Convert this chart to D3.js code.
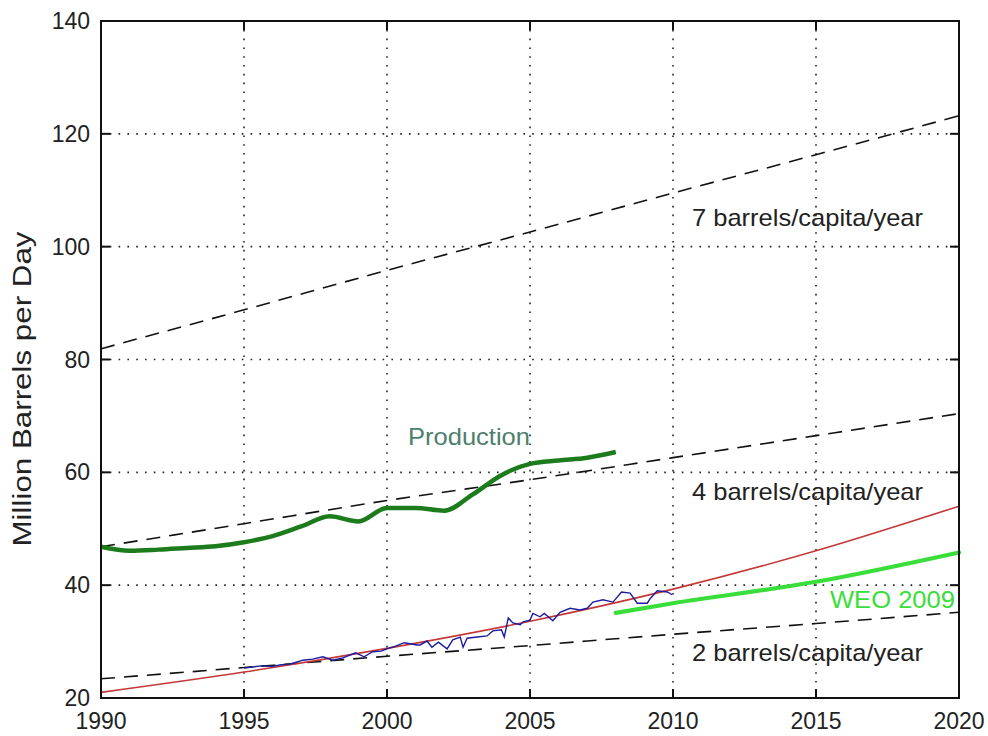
<!DOCTYPE html>
<html>
<head>
<meta charset="utf-8">
<script src="https://cdn.jsdelivr.net/npm/d3@7"></script>
<style>
  html, body { margin: 0; padding: 0; background: #fff; }
  svg { display: block; }
  text { font-family: Arial, "Liberation Sans", Helvetica, sans-serif; fill: #222; }
</style>
</head>
<body>
<svg id="chart" width="988" height="736"></svg>
<script>
// ---- data ----
const xTicks = [1990, 1995, 2000, 2005, 2010, 2015, 2020];
const yTicks = [20, 40, 60, 80, 100, 120, 140];

// consumption at fixed barrels per person per year (million bbl/day)
const capitaYears = [1990, 1995, 2000, 2005, 2010, 2015, 2020];
const sevenBarrels = [81.9, 88.8, 95.8, 102.6, 109.5, 116.3, 123.2];
const fourBarrels = [46.8, 50.9, 55.0, 58.7, 62.6, 66.5, 70.4];
const twoBarrels = [23.4, 25.4, 27.4, 29.3, 31.3, 33.2, 35.2];

// exponential trend fitted to the monthly series
const trendYears = [1990, 1995, 2000, 2005, 2010, 2015, 2020];
const trendValues = [21.0, 24.6, 28.8, 33.6, 39.3, 46.1, 54.0];

// monthly series
const monthlyYears = [1995.0, 1995.3, 1995.6, 1996.0, 1996.3, 1996.6, 1996.8, 1997.06, 1997.4, 1997.76,
  1998.1, 1998.46, 1998.9, 1999.2, 1999.5, 1999.8, 2000.0, 2000.3, 2000.6, 2001.05, 2001.15, 2001.4,
  2001.57, 2001.8, 2002.1, 2002.3, 2002.56, 2002.66, 2002.8, 2003.15, 2003.5, 2003.7, 2004.0, 2004.1,
  2004.24, 2004.4, 2004.66, 2004.76, 2005.0, 2005.1, 2005.35, 2005.5, 2005.8, 2006.05, 2006.4,
  2006.75, 2007.0, 2007.2, 2007.55, 2007.9, 2008.2, 2008.5, 2008.75, 2009.1, 2009.2, 2009.45,
  2009.8, 2009.97];
const monthlyValues = [25.3, 25.5, 25.7, 25.6, 25.9, 26.0, 26.3, 26.7, 26.9, 27.3,
  26.7, 27.1, 28.0, 27.3, 28.2, 28.3, 28.7, 29.2, 29.8, 29.4, 29.4, 30.1,
  29.0, 29.9, 28.7, 30.3, 30.8, 29.0, 30.6, 30.8, 31.0, 31.9, 32.1, 30.8,
  34.2, 33.3, 33.0, 33.5, 33.8, 35.0, 34.4, 35.0, 33.7, 35.2, 35.9,
  35.6, 35.9, 37.0, 37.4, 37.0, 38.8, 38.6, 36.8, 36.8, 37.6, 39.0,
  38.8, 38.3];

// annual production
const productionYears = [1990, 1991, 1992, 1993, 1994, 1995, 1996, 1997, 1998, 1999,
  2000, 2001, 2002, 2003, 2004, 2005, 2006, 2007, 2008];
const productionValues = [46.8, 46.1, 46.3, 46.6, 46.9, 47.6, 48.7, 50.4, 52.2, 51.3,
  53.7, 53.7, 53.2, 56.1, 59.5, 61.5, 62.1, 62.6, 63.6];

// WEO 2009 outlook
const weoYears = [2008, 2010, 2015, 2020];
const weoValues = [35.1, 36.8, 40.6, 45.8];

// ---- layout ----
const svg = d3.select("#chart");
const plotLeft = 101, plotRight = 959, plotTop = 21, plotBottom = 698;

const x = d3.scaleLinear().domain([1990, 2020]).range([plotLeft, plotRight]);
const y = d3.scaleLinear().domain([20, 140]).range([plotBottom, plotTop]);

// dotted grid
const grid = svg.append("g")
  .attr("stroke", "#222").attr("stroke-width", 1.6)
  .attr("stroke-dasharray", "1.6,7.2");
grid.selectAll("line.v").data(xTicks.slice(1, -1)).join("line")
  .attr("class", "v")
  .attr("x1", d => x(d)).attr("x2", d => x(d))
  .attr("y1", plotTop).attr("y2", plotBottom);
grid.selectAll("line.h").data(yTicks.slice(1, -1)).join("line")
  .attr("class", "h")
  .attr("x1", plotLeft).attr("x2", plotRight)
  .attr("y1", d => y(d)).attr("y2", d => y(d));

// series
const pts = (xs, ys) => xs.map((v, i) => [v, ys[i]]);
const smooth = d3.line().x(d => x(d[0])).y(d => y(d[1])).curve(d3.curveMonotoneX);
const straight = d3.line().x(d => x(d[0])).y(d => y(d[1]));

[sevenBarrels, fourBarrels, twoBarrels].forEach(vals => {
  svg.append("path")
    .attr("d", smooth(pts(capitaYears, vals)))
    .attr("fill", "none").attr("stroke", "#111")
    .attr("stroke-width", 1.6).attr("stroke-dasharray", "14,9");
});

svg.append("path")
  .attr("d", smooth(pts(productionYears, productionValues)))
  .attr("fill", "none").attr("stroke", "#1c7c1c")
  .attr("stroke-width", 4.5).attr("stroke-linejoin", "round");

svg.append("path")
  .attr("d", smooth(pts(trendYears, trendValues)))
  .attr("fill", "none").attr("stroke", "#c43838").attr("stroke-width", 1.6);

svg.append("path")
  .attr("d", straight(pts(monthlyYears, monthlyValues)))
  .attr("fill", "none").attr("stroke", "#1c1ca0").attr("stroke-width", 1.4);

svg.append("path")
  .attr("d", smooth(pts(weoYears, weoValues)))
  .attr("fill", "none").attr("stroke", "#3ade3a")
  .attr("stroke-width", 4.2).attr("stroke-linecap", "round");

// frame and inward ticks on all four sides
const axes = svg.append("g");
axes.append("rect")
  .attr("x", plotLeft).attr("y", plotTop)
  .attr("width", plotRight - plotLeft).attr("height", plotBottom - plotTop)
  .attr("fill", "none").attr("stroke", "#111").attr("stroke-width", 2);

const tickLen = 9;
const ticks = axes.append("g").attr("stroke", "#111").attr("stroke-width", 2);
xTicks.slice(1, -1).forEach(t => {
  ticks.append("line").attr("x1", x(t)).attr("x2", x(t)).attr("y1", plotBottom).attr("y2", plotBottom - tickLen);
  ticks.append("line").attr("x1", x(t)).attr("x2", x(t)).attr("y1", plotTop).attr("y2", plotTop + tickLen);
});
yTicks.slice(1, -1).forEach(t => {
  ticks.append("line").attr("x1", plotLeft).attr("x2", plotLeft + tickLen).attr("y1", y(t)).attr("y2", y(t));
  ticks.append("line").attr("x1", plotRight).attr("x2", plotRight - tickLen).attr("y1", y(t)).attr("y2", y(t));
});

// tick labels
axes.selectAll("text.xt").data(xTicks).join("text")
  .attr("class", "xt")
  .attr("x", d => x(d)).attr("y", 729)
  .attr("text-anchor", "middle").attr("font-size", 23)
  .text(d => d);
axes.selectAll("text.yt").data(yTicks).join("text")
  .attr("class", "yt")
  .attr("x", 90).attr("y", d => y(d) + 8)
  .attr("text-anchor", "end").attr("font-size", 23)
  .text(d => d);

// axis title
svg.append("text")
  .attr("transform", "translate(31,389) rotate(-90)")
  .attr("text-anchor", "middle").attr("font-size", 25)
  .attr("textLength", 315).attr("lengthAdjust", "spacingAndGlyphs")
  .text("Million Barrels per Day");

// line labels
const labels = [
  { text: "7 barrels/capita/year", x: 692, y: 226, w: 231, color: "#222" },
  { text: "4 barrels/capita/year", x: 692, y: 500, w: 231, color: "#222" },
  { text: "2 barrels/capita/year", x: 692, y: 661, w: 231, color: "#222" },
  { text: "Production", x: 408, y: 445, w: 122, color: "#4d7f6c" },
  { text: "WEO 2009", x: 830, y: 608, w: 125, color: "#3ade3a" }
];
svg.selectAll("text.lbl").data(labels).join("text")
  .attr("class", "lbl")
  .attr("x", d => d.x).attr("y", d => d.y)
  .attr("font-size", 24)
  .attr("textLength", d => d.w).attr("lengthAdjust", "spacingAndGlyphs")
  .style("fill", d => d.color)
  .text(d => d.text);
</script>
</body>
</html>
